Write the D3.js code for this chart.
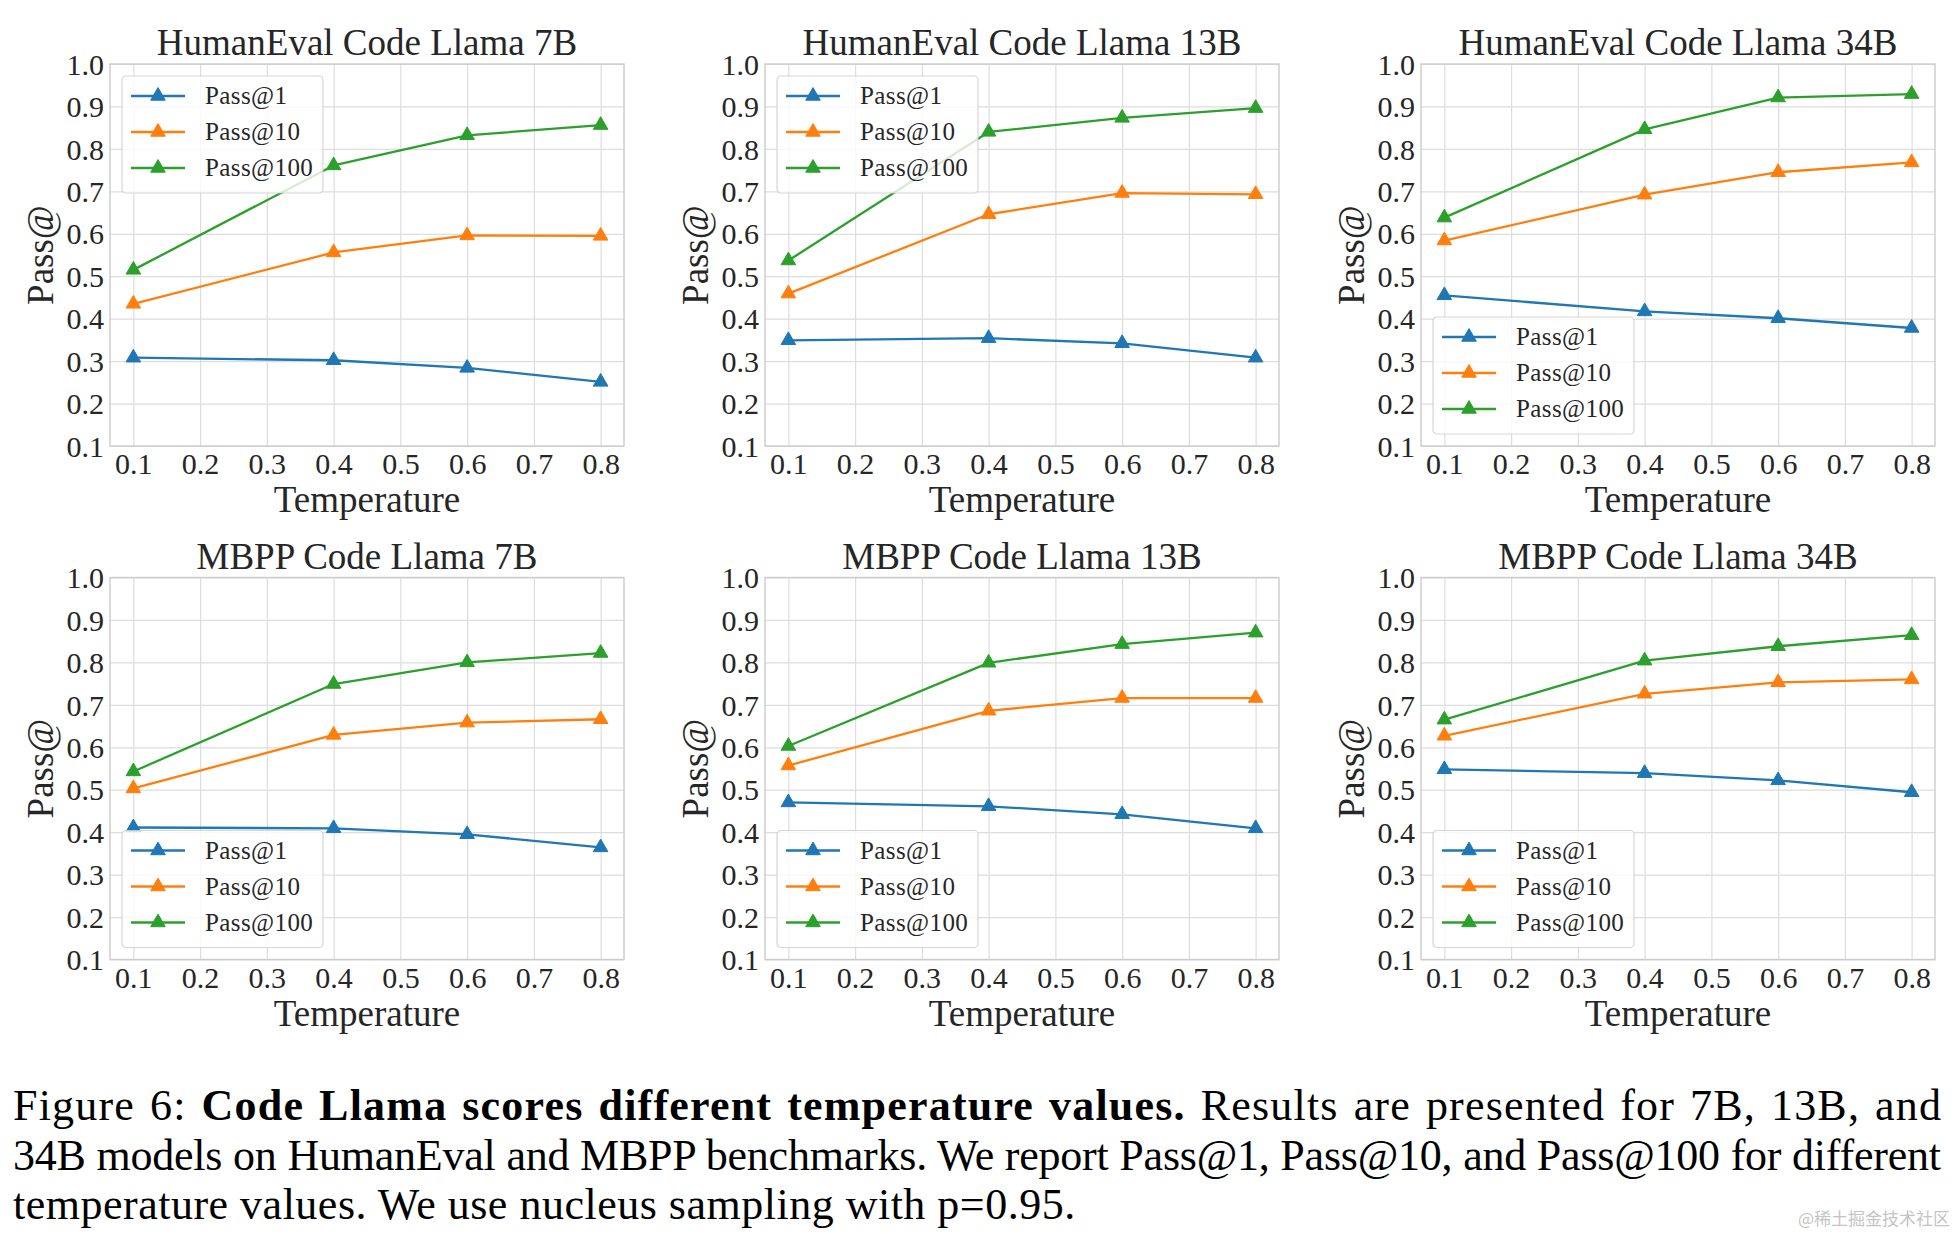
<!DOCTYPE html>
<html>
<head>
<meta charset="utf-8">
<script src="https://cdn.jsdelivr.net/npm/d3@7"></script>
<style>
  html, body { margin: 0; padding: 0; background: #ffffff; }
  svg { display: block; }
</style>
</head>
<body>
<script>
// ---------- DATA ----------
const temperatures = [0.1, 0.4, 0.6, 0.8];
const xTicks = [0.1, 0.2, 0.3, 0.4, 0.5, 0.6, 0.7, 0.8];
const xTickLabels = ["0.1", "0.2", "0.3", "0.4", "0.5", "0.6", "0.7", "0.8"];
const yTicks = [0.1, 0.2, 0.3, 0.4, 0.5, 0.6, 0.7, 0.8, 0.9, 1.0];
const yTickLabels = ["0.1", "0.2", "0.3", "0.4", "0.5", "0.6", "0.7", "0.8", "0.9", "1.0"];
const seriesNames = ["Pass@1", "Pass@10", "Pass@100"];
const seriesColors = ["#1f77b4", "#ff7f0e", "#2ca02c"];
const panelTitles = [
  "HumanEval Code Llama 7B", "HumanEval Code Llama 13B", "HumanEval Code Llama 34B",
  "MBPP Code Llama 7B", "MBPP Code Llama 13B", "MBPP Code Llama 34B"
];
const legendPositions = ["upper left", "upper left", "lower left", "lower left", "lower left", "lower left"];

// HumanEval
const humaneval7B_pass1   = [0.308, 0.302, 0.284, 0.251];
const humaneval7B_pass10  = [0.435, 0.556, 0.596, 0.595];
const humaneval7B_pass100 = [0.515, 0.761, 0.832, 0.856];

const humaneval13B_pass1   = [0.349, 0.354, 0.342, 0.308];
const humaneval13B_pass10  = [0.459, 0.646, 0.696, 0.693];
const humaneval13B_pass100 = [0.537, 0.840, 0.873, 0.896];

const humaneval34B_pass1   = [0.455, 0.417, 0.401, 0.378];
const humaneval34B_pass10  = [0.584, 0.692, 0.745, 0.768];
const humaneval34B_pass100 = [0.638, 0.846, 0.921, 0.929];

// MBPP
const mbpp7B_pass1   = [0.411, 0.409, 0.395, 0.364];
const mbpp7B_pass10  = [0.503, 0.629, 0.658, 0.666];
const mbpp7B_pass100 = [0.543, 0.749, 0.800, 0.822];

const mbpp13B_pass1   = [0.470, 0.461, 0.442, 0.409];
const mbpp13B_pass10  = [0.557, 0.686, 0.716, 0.716];
const mbpp13B_pass100 = [0.603, 0.799, 0.843, 0.870];

const mbpp34B_pass1   = [0.548, 0.539, 0.522, 0.494];
const mbpp34B_pass10  = [0.627, 0.726, 0.753, 0.760];
const mbpp34B_pass100 = [0.665, 0.804, 0.838, 0.864];

const panelSeries = [
  [humaneval7B_pass1, humaneval7B_pass10, humaneval7B_pass100],
  [humaneval13B_pass1, humaneval13B_pass10, humaneval13B_pass100],
  [humaneval34B_pass1, humaneval34B_pass10, humaneval34B_pass100],
  [mbpp7B_pass1, mbpp7B_pass10, mbpp7B_pass100],
  [mbpp13B_pass1, mbpp13B_pass10, mbpp13B_pass100],
  [mbpp34B_pass1, mbpp34B_pass10, mbpp34B_pass100]
];

const xLabel = "Temperature";
const yLabel = "Pass@";

const captionLine1 = [
  {text: "Figure 6: ", bold: false},
  {text: "Code Llama scores different temperature values.", bold: true},
  {text: " Results are presented for 7B, 13B, and", bold: false}
];
const captionLine2 = [{text: "34B models on HumanEval and MBPP benchmarks. We report Pass@1, Pass@10, and Pass@100 for different", bold: false}];
const captionLine3 = [{text: "temperature values. We use nucleus sampling with p=0.95.", bold: false}];
const watermark = "@稀土掘金技术社区";

// ---------- LAYOUT ----------
const W = 1960, H = 1234;
const colLefts = [110, 765, 1421];
const rowTops = [64, 577.5];
const pw = 514, ph = 382;
const serif = "'Liberation Serif', 'Times New Roman', serif";
const textColor = "#262626";

const svg = d3.select("body").append("svg")
  .attr("width", W).attr("height", H)
  .attr("viewBox", `0 0 ${W} ${H}`);
svg.append("rect").attr("width", W).attr("height", H).attr("fill", "#ffffff");

panelTitles.forEach((title, i) => {
  const col = i % 3, row = Math.floor(i / 3);
  const g = svg.append("g").attr("transform", `translate(${colLefts[col]},${rowTops[row]})`);

  const x = d3.scaleLinear().domain([0.065, 0.835]).range([0, pw]);
  const y = d3.scaleLinear().domain([0.1, 1.0]).range([ph, 0]);

  // grid + tick labels
  const gx = g.append("g").attr("transform", `translate(0,${ph})`)
    .call(d3.axisBottom(x).tickValues(xTicks).tickSize(-ph).tickFormat((d, k) => xTickLabels[k]));
  gx.select(".domain").remove();
  gx.selectAll(".tick line").attr("stroke", "#dddddd").attr("stroke-width", 1.2);
  gx.selectAll(".tick text")
    .attr("y", 28).attr("dy", null)
    .attr("font-family", serif).attr("font-size", 30).attr("fill", textColor);

  const gy = g.append("g")
    .call(d3.axisLeft(y).tickValues(yTicks).tickSize(-pw).tickFormat((d, k) => yTickLabels[k]));
  gy.select(".domain").remove();
  gy.selectAll(".tick line").attr("stroke", "#dddddd").attr("stroke-width", 1.2);
  gy.selectAll(".tick text")
    .attr("x", -6).attr("dy", "0.34em")
    .attr("font-family", serif).attr("font-size", 30).attr("fill", textColor);

  // spines
  g.append("rect").attr("x", 0).attr("y", 0).attr("width", pw).attr("height", ph)
    .attr("fill", "none").attr("stroke", "#cccccc").attr("stroke-width", 1.4);

  // title
  g.append("text").attr("x", pw / 2).attr("y", -9)
    .attr("text-anchor", "middle")
    .attr("font-family", serif).attr("font-size", 37).attr("fill", textColor)
    .text(title);

  // axis labels
  g.append("text").attr("x", pw / 2).attr("y", ph + 66)
    .attr("text-anchor", "middle")
    .attr("font-family", serif).attr("font-size", 37).attr("fill", textColor)
    .text(xLabel);
  g.append("text")
    .attr("transform", `translate(-57,${ph / 2}) rotate(-90)`)
    .attr("text-anchor", "middle")
    .attr("font-family", serif).attr("font-size", 37).attr("fill", textColor)
    .text(yLabel);

  // series
  const line = d3.line().x(d => x(d.t)).y(d => y(d.v));
  const tri = d3.symbol(d3.symbolTriangle, 92);
  panelSeries[i].forEach((vals, s) => {
    const pts = vals.map((v, k) => ({t: temperatures[k], v}));
    g.append("path").datum(pts)
      .attr("d", line).attr("fill", "none")
      .attr("stroke", seriesColors[s]).attr("stroke-width", 2.3)
      .attr("stroke-linejoin", "round");
    g.selectAll(null).data(pts).enter().append("path")
      .attr("d", tri)
      .attr("transform", d => `translate(${x(d.t)},${y(d.v)})`)
      .attr("fill", seriesColors[s]).attr("stroke", seriesColors[s]).attr("stroke-width", 1);
  });

  // legend
  const lw = 201, lh = 117, pad = 12;
  const lx = pad;
  const ly = legendPositions[i] === "upper left" ? pad : ph - pad - lh;
  const lg = g.append("g").attr("transform", `translate(${lx},${ly})`);
  lg.append("rect").attr("width", lw).attr("height", lh).attr("rx", 4).attr("ry", 4)
    .attr("fill", "#ffffff").attr("fill-opacity", 0.8)
    .attr("stroke", "#cccccc").attr("stroke-opacity", 0.8).attr("stroke-width", 1.2);
  seriesNames.forEach((name, s) => {
    const ry = 20 + s * 36;
    lg.append("line").attr("x1", 9).attr("x2", 63).attr("y1", ry).attr("y2", ry)
      .attr("stroke", seriesColors[s]).attr("stroke-width", 2.3);
    lg.append("path").attr("d", tri).attr("transform", `translate(36,${ry})`)
      .attr("fill", seriesColors[s]).attr("stroke", seriesColors[s]).attr("stroke-width", 1);
    lg.append("text").attr("x", 83).attr("y", ry).attr("dy", "0.33em")
      .attr("font-family", serif).attr("font-size", 25).attr("letter-spacing", 0.4)
      .attr("fill", textColor)
      .text(name);
  });
});

// ---------- CAPTION ----------
const capLeft = 13, capRight = 1941;
function captionLine(parts, baseline, justify) {
  const t = svg.append("text").attr("x", capLeft).attr("y", baseline)
    .attr("font-family", serif).attr("font-size", 44)
    .attr("fill", "#000000")
    .attr("xml:space", "preserve");
  parts.forEach(p => {
    t.append("tspan").attr("font-weight", p.bold ? "bold" : "normal").text(p.text);
  });
  const full = parts.map(p => p.text).join("");
  if (justify) {
    const width = t.node().getBBox().width;
    const extra = capRight - capLeft - width;
    const chars = full.length - 1;
    let ls = extra / chars;
    let ws = 0;
    if (ls > 1.2) {
      ls = 1.2;
      const spaces = full.split(" ").length - 1;
      ws = (extra - ls * chars) / spaces;
    }
    t.attr("letter-spacing", ls).attr("word-spacing", ws);
  } else {
    t.attr("letter-spacing", 0.5);
  }
}
captionLine(captionLine1, 1120, true);
captionLine(captionLine2, 1170, true);
captionLine(captionLine3, 1219, false);

svg.append("text").attr("x", 1950).attr("y", 1225).attr("text-anchor", "end")
  .attr("font-family", "'Noto Sans CJK SC', sans-serif").attr("font-size", 17)
  .attr("fill", "#c4c4c4").text(watermark);
</script>
</body>
</html>
